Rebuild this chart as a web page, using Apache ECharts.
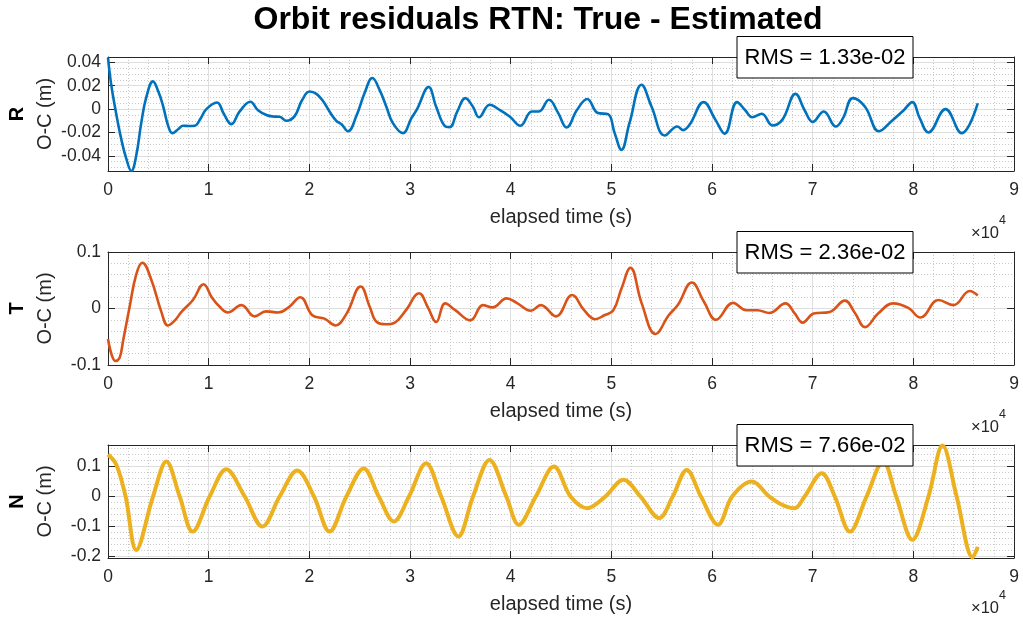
<!DOCTYPE html>
<html>
<head>
<meta charset="utf-8">
<script src="https://cdn.jsdelivr.net/npm/echarts@6/dist/echarts.min.js"></script>
<style>
html,body{margin:0;padding:0;background:#fff;}
#chart{width:1023px;height:622px;}
</style>
</head>
<body>
<div id="chart"></div>
<script>
// ---------------- data (time in seconds, residual in metres) ----------------
const titleText = 'Orbit residuals RTN: True - Estimated';
const componentNames = ['R', 'T', 'N'];
const yAxisLabel = 'O-C (m)';
const xAxisLabel = 'elapsed time (s)';
const xExponentBase = '\u00d710';
const xExponent = '4';
const rmsLabels = ['RMS = 1.33e-02', 'RMS = 2.36e-02', 'RMS = 7.66e-02'];

const residualR = [
  [0,0.044],[300,0.022],[730,0],[1300,-0.025],[1800,-0.042],[2320,-0.053],[2800,-0.04],[3300,-0.012],
  [3800,0.01],[4470,0.0237],[5000,0.015],[5460,0.003],[6000,-0.015],[6390,-0.0206],[7000,-0.017],
  [7450,-0.0143],[8000,-0.0145],[8610,-0.0143],[9200,-0.008],[9770,0],[10830,0.0057],[11500,-0.004],
  [12250,-0.0129],[13080,-0.002],[14140,0.0063],[14900,-0.001],[15730,-0.005],[16390,-0.0063],
  [17050,-0.0066],[17720,-0.01],[18540,-0.006],[19300,0.008],[20030,0.015],[20700,0.013],[21360,0.007],
  [22000,-0.002],[22680,-0.01],[23200,-0.013],[23840,-0.019],[24670,-0.006],[25500,0.014],[26260,0.0266],
  [27000,0.016],[27650,0.002],[28300,-0.012],[29300,-0.0206],[30130,-0.008],[30700,0],[31850,0.0189],
  [32600,0.002],[33440,-0.0143],[33940,-0.0154],[34700,-0.002],[35500,0.0094],[36250,0.002],
  [36850,-0.007],[37910,0.0037],[38900,-0.0006],[39900,-0.0063],[40960,-0.0143],[42100,-0.002],
  [42800,-0.002],[43800,0.008],[44700,-0.003],[45550,-0.0157],[46600,-0.0006],[47600,0.0086],
  [48670,-0.0034],[49670,-0.0043],[50330,-0.0206],[51000,-0.0349],[51800,-0.012],[53000,0.0209],
  [54000,0.002],[55320,-0.0226],[56550,-0.0149],[57140,-0.018],[57800,-0.013],[59170,0.006],
  [60330,-0.009],[61260,-0.021],[62490,0.006],[63300,-0.001],[64000,-0.007],[64950,-0.004],
  [66000,-0.014],[67000,-0.009],[68300,0.013],[69200,-0.001],[70000,-0.011],[71100,-0.002],
  [72300,-0.0149],[73000,-0.008],[74000,0.0094],[75200,0.002],[76600,-0.019],[77800,-0.0106],
  [79000,-0.0014],[79900,0.006],[80600,-0.007],[81500,-0.02],[83200,0],[84800,-0.0206],[86400,0.005]
];

const residualT = [
  [0,-0.054],[760,-0.093],[1160,-0.087],[1500,-0.057],[2150,0.003],[2800,0.06],[3410,0.081],[4300,0.051],
  [5300,-0.006],[5960,-0.03],[6600,-0.022],[7300,-0.006],[8440,0.015],[9500,0.043],[10300,0.02],
  [11100,0.003],[11900,-0.007],[13250,0.006],[14570,-0.014],[15700,-0.005],[16900,-0.007],[18000,0.003],
  [19100,0.02],[20300,-0.012],[21500,-0.018],[22600,-0.03],[23700,-0.009],[25100,0.039],[26000,0.003],
  [26700,-0.024],[27650,-0.028],[28500,-0.025],[29600,-0.003],[30900,0.027],[31800,0.001],[32600,-0.024],
  [33500,0.009],[34500,-0.003],[36000,-0.021],[37250,0.006],[38200,0.002],[39600,0.018],[40600,0.01],
  [42000,-0.004],[43000,0.006],[44500,-0.014],[46100,0.024],[47300,-0.003],[48400,-0.019],[49300,-0.012],
  [50200,-0.003],[51000,0.035],[51900,0.072],[53000,0.01],[54400,-0.045],[55700,-0.012],[56600,0.006],
  [58000,0.046],[59200,0.012],[60400,-0.02],[62100,0.01],[63400,-0.003],[64500,-0.003],[65700,-0.008],
  [67300,0.009],[68200,-0.008],[69000,-0.025],[70100,-0.009],[71700,-0.006],[73200,0.014],[74200,-0.008],
  [75200,-0.033],[76500,-0.009],[78000,0.009],[79500,0.001],[80700,-0.016],[82500,0.015],[84000,0.006],
  [85600,0.031],[86400,0.023]
];

const residualN = [
  [0,0.14],[830,0.106],[1750,0],[2800,-0.178],[4470,0],[5800,0.117],[7120,0],[8400,-0.117],[10100,0],
  [11750,0.091],[13580,0],[15330,-0.1],[17050,0],[18800,0.087],[20460,0],[22000,-0.117],[23680,0],
  [25400,0.094],[26900,0],[28400,-0.083],[29900,0],[31600,0.111],[33100,0],[34800,-0.133],[36260,0],
  [37900,0.122],[39570,0],[40800,-0.094],[42500,0],[44300,0.1],[45950,0],[47600,-0.039],[49400,0],
  [51200,0.056],[52900,0],[54750,-0.072],[56100,0],[57500,0.089],[58900,0],[60600,-0.094],[62000,0],
  [63950,0.05],[65700,0],[67000,-0.028],[68200,-0.039],[69200,0],[70900,0.078],[72200,0],[73700,-0.117],
  [75350,0],[77000,0.117],[78300,0],[79900,-0.144],[81500,0],[82900,0.17],[84300,0],[85900,-0.203],
  [86400,-0.168]
];

// ---------------- layout / style ----------------
const FONT = "'Liberation Sans', Arial, Helvetica, sans-serif";
const AX = '#262626';
const panels = [
  {data: residualR, color: '#0072BD', width: 2.6, smooth: 0.42, top: 57, height: 114, min: -0.053, max: 0.0446, step: 0.02, minorN: 20, interval: null, expY: 62},
  {data: residualT, color: '#D95319', width: 2.6, smooth: 0.42, top: 252, height: 113, min: -0.1, max: 0.1, step: 0.1, minorN: 10, interval: 0.1, expY: 62},
  {data: residualN, color: '#EDB120', width: 4, smooth: 0.35, top: 445, height: 113, min: -0.205, max: 0.172, step: 0.1, minorN: 20, interval: null, expY: 50}
];
const LEFT = 108, WIDTH = 906;

const grid = [], xAxis = [], yAxis = [], series = [], graphic = [];

panels.forEach((p, g) => {
  grid.push({left: LEFT, top: p.top, width: WIDTH, height: p.height, containLabel: false});
  const boxLine = {show: true, onZero: false, lineStyle: {color: AX, width: 1}};
  xAxis.push({
    gridIndex: g, type: 'value', position: 'bottom', min: 0, max: 90000, interval: 10000,
    axisLine: boxLine,
    axisTick: {show: true, inside: true, length: 7, lineStyle: {color: AX}},
    axisLabel: {margin: 10, fontSize: 17.5, color: AX, fontFamily: FONT, formatter: v => String(Math.round(v / 10000))},
    splitLine: {show: true, lineStyle: {color: '#dedede', width: 1}},
    minorTick: {show: false, splitNumber: 5},
    minorSplitLine: {show: true, lineStyle: {color: '#c9c9c9', width: 1, type: [1, 2]}}
  });
  xAxis.push({
    gridIndex: g, type: 'value', position: 'top', min: 0, max: 90000, interval: 10000,
    axisLine: boxLine,
    axisTick: {show: true, inside: true, length: 7, lineStyle: {color: AX}},
    axisLabel: {show: false}, splitLine: {show: false}
  });
  yAxis.push({
    gridIndex: g, type: 'value', position: 'left', min: p.min, max: p.max, splitNumber: p.minorN,
    axisLine: {show: false}, axisTick: {show: false}, axisLabel: {show: false},
    splitLine: {show: true, lineStyle: {color: '#c9c9c9', width: 1, type: [1, 2]}}
  });
  const mainY = {
    gridIndex: g, type: 'value', position: 'left', min: p.min, max: p.max, splitNumber: 5,
    axisLine: boxLine,
    axisTick: {show: true, inside: true, length: 7, lineStyle: {color: AX}},
    axisLabel: {margin: 7, fontSize: 17.5, color: AX, fontFamily: FONT,
      formatter: v => {
        const k = v / p.step;
        if (Math.abs(k - Math.round(k)) > 1e-4) return '';
        const r = parseFloat((Math.round(k) * p.step).toFixed(4));
        return String(r === 0 ? 0 : r);
      }},
    splitLine: {show: true, lineStyle: {color: '#dedede', width: 1}}
  };
  if (p.interval) mainY.interval = p.interval;
  yAxis.push(mainY);
  yAxis.push({
    gridIndex: g, type: 'value', position: 'right', min: p.min, max: p.max, splitNumber: 5,
    axisLine: boxLine,
    axisTick: {show: true, inside: true, length: 7, lineStyle: {color: AX}},
    axisLabel: {show: false}, splitLine: {show: false},
    ...(p.interval ? {interval: p.interval} : {})
  });
  series.push({
    type: 'line', xAxisIndex: 2 * g, yAxisIndex: 3 * g + 1, data: p.data,
    showSymbol: false, symbol: 'none', smooth: p.smooth, clip: true,
    lineStyle: {color: p.color, width: p.width}, itemStyle: {color: p.color},
    animation: false, silent: true, z: 3
  });

  const bottom = p.top + p.height;
  const midY = p.top + p.height / 2;
  graphic.push({type: 'text', x: 17.5, y: midY, rotation: Math.PI / 2,
    style: {text: componentNames[g], fontSize: 20, fontWeight: 'bold', fontFamily: FONT, fill: '#000',
      align: 'center', verticalAlign: 'middle', textAlign: 'center', textVerticalAlign: 'middle'}});
  graphic.push({type: 'text', x: 45, y: midY, rotation: Math.PI / 2,
    style: {text: yAxisLabel, fontSize: 20, fontFamily: FONT, fill: AX,
      align: 'center', verticalAlign: 'middle', textAlign: 'center', textVerticalAlign: 'middle'}});
  graphic.push({type: 'text', x: LEFT + WIDTH / 2, y: bottom + 46.5,
    style: {text: xAxisLabel, fontSize: 20, fontFamily: FONT, fill: AX,
      align: 'center', verticalAlign: 'middle', textAlign: 'center', textVerticalAlign: 'middle'}});
  graphic.push({type: 'text', x: 971, y: bottom + p.expY,
    style: {text: xExponentBase, fontSize: 16.5, fontFamily: FONT, fill: AX,
      align: 'left', verticalAlign: 'middle', textAlign: 'left', textVerticalAlign: 'middle'}});
  graphic.push({type: 'text', x: 999, y: bottom + p.expY - 12,
    style: {text: xExponent, fontSize: 12.5, fontFamily: FONT, fill: AX,
      align: 'left', verticalAlign: 'middle', textAlign: 'left', textVerticalAlign: 'middle'}});
  graphic.push({type: 'rect', z: 100, shape: {x: 737, y: p.top - 20.5, width: 176, height: 41.5},
    style: {fill: '#fff', stroke: '#000', lineWidth: 1}});
  graphic.push({type: 'text', z: 101, x: 825, y: p.top + 0.5,
    style: {text: rmsLabels[g], fontSize: 22, fontFamily: FONT, fill: '#000',
      align: 'center', verticalAlign: 'middle', textAlign: 'center', textVerticalAlign: 'middle'}});
});

graphic.push({type: 'text', x: 538, y: 20,
  style: {text: titleText, fontSize: 32, fontWeight: 'bold', fontFamily: FONT, fill: '#000',
    align: 'center', verticalAlign: 'middle', textAlign: 'center', textVerticalAlign: 'middle'}});

const chart = echarts.init(document.getElementById('chart'), null, {renderer: 'canvas'});
chart.setOption({
  backgroundColor: '#fff',
  animation: false,
  grid, xAxis, yAxis, series, graphic
});
</script>
</body>
</html>
